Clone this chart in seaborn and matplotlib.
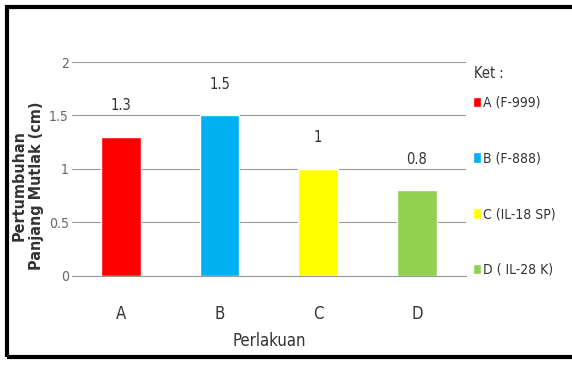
import matplotlib
matplotlib.use("Agg")
import matplotlib.pyplot as plt
import seaborn as sns
import pandas as pd
from matplotlib.patches import Rectangle

# data
perlakuan = ["A", "B", "C", "D"]
nilai = [1.3, 1.5, 1.0, 0.8]
label_nilai = ["1.3", "1.5", "1", "0.8"]
legend_labels = ["A (F-999)", "B (F-888)", "C (IL-18 SP)", "D ( IL-28 K)"]
warna = ["#ff0000", "#00b0f0", "#ffff00", "#92d050"]

sns.set_style("white")
plt.rcParams["font.family"] = ["DejaVu Sans"]
plt.rcParams["font.stretch"] = "condensed"

df = pd.DataFrame({"Perlakuan": perlakuan, "Nilai": nilai, "Ket": legend_labels})

fig = plt.figure(figsize=(5.72, 3.65), dpi=100)
ax = fig.add_axes([0.125, 0.245, 0.69, 0.585])

sns.barplot(data=df, x="Perlakuan", y="Nilai", hue="Ket", palette=warna,
            saturation=1, dodge=False, width=0.4, ax=ax, legend=True)

for cont, lab in zip(ax.containers, label_nilai):
    ax.bar_label(cont, labels=[lab], padding=17, fontsize=10.5, color="#333333")

ax.set_ylim(0, 2)
ax.set_yticks([0, 0.5, 1, 1.5, 2])
ax.set_yticklabels(["0", "0.5", "1", "1.5", "2"], fontsize=10, color="#666666")
ax.yaxis.grid(True, color="#999999", linewidth=0.8)
ax.set_axisbelow(True)
ax.tick_params(axis="x", labelsize=12, colors="#333333", pad=18)
ax.tick_params(axis="y", length=0, pad=2)
for s in ["top", "right", "left"]:
    ax.spines[s].set_visible(False)
ax.spines["bottom"].set_color("#999999")

ax.set_xlabel("Perlakuan", fontsize=12, color="#333333", labelpad=6)
ax.set_ylabel("Pertumbuhan\nPanjang Mutlak (cm)", fontsize=11.5, color="#333333",
              fontweight="bold")
ax.yaxis.set_label_coords(-0.07, 0.42)

leg = ax.legend(loc="upper left", bbox_to_anchor=(0.985, 0.9),
                frameon=False, fontsize=10,
                labelspacing=3.0, handlelength=0.6, handleheight=0.8,
                handletextpad=0.15)
for t in leg.get_texts():
    t.set_color("#333333")
ax.text(1.02, 0.91, "Ket :", transform=ax.transAxes, fontsize=10.5,
        color="#333333", va="bottom", ha="left")

# outer frame
fig.patches.append(Rectangle((0.012, 0.022), 0.99, 0.96, transform=fig.transFigure,
                             fill=False, edgecolor="black", linewidth=3))

fig.savefig("out.png", dpi=100)
